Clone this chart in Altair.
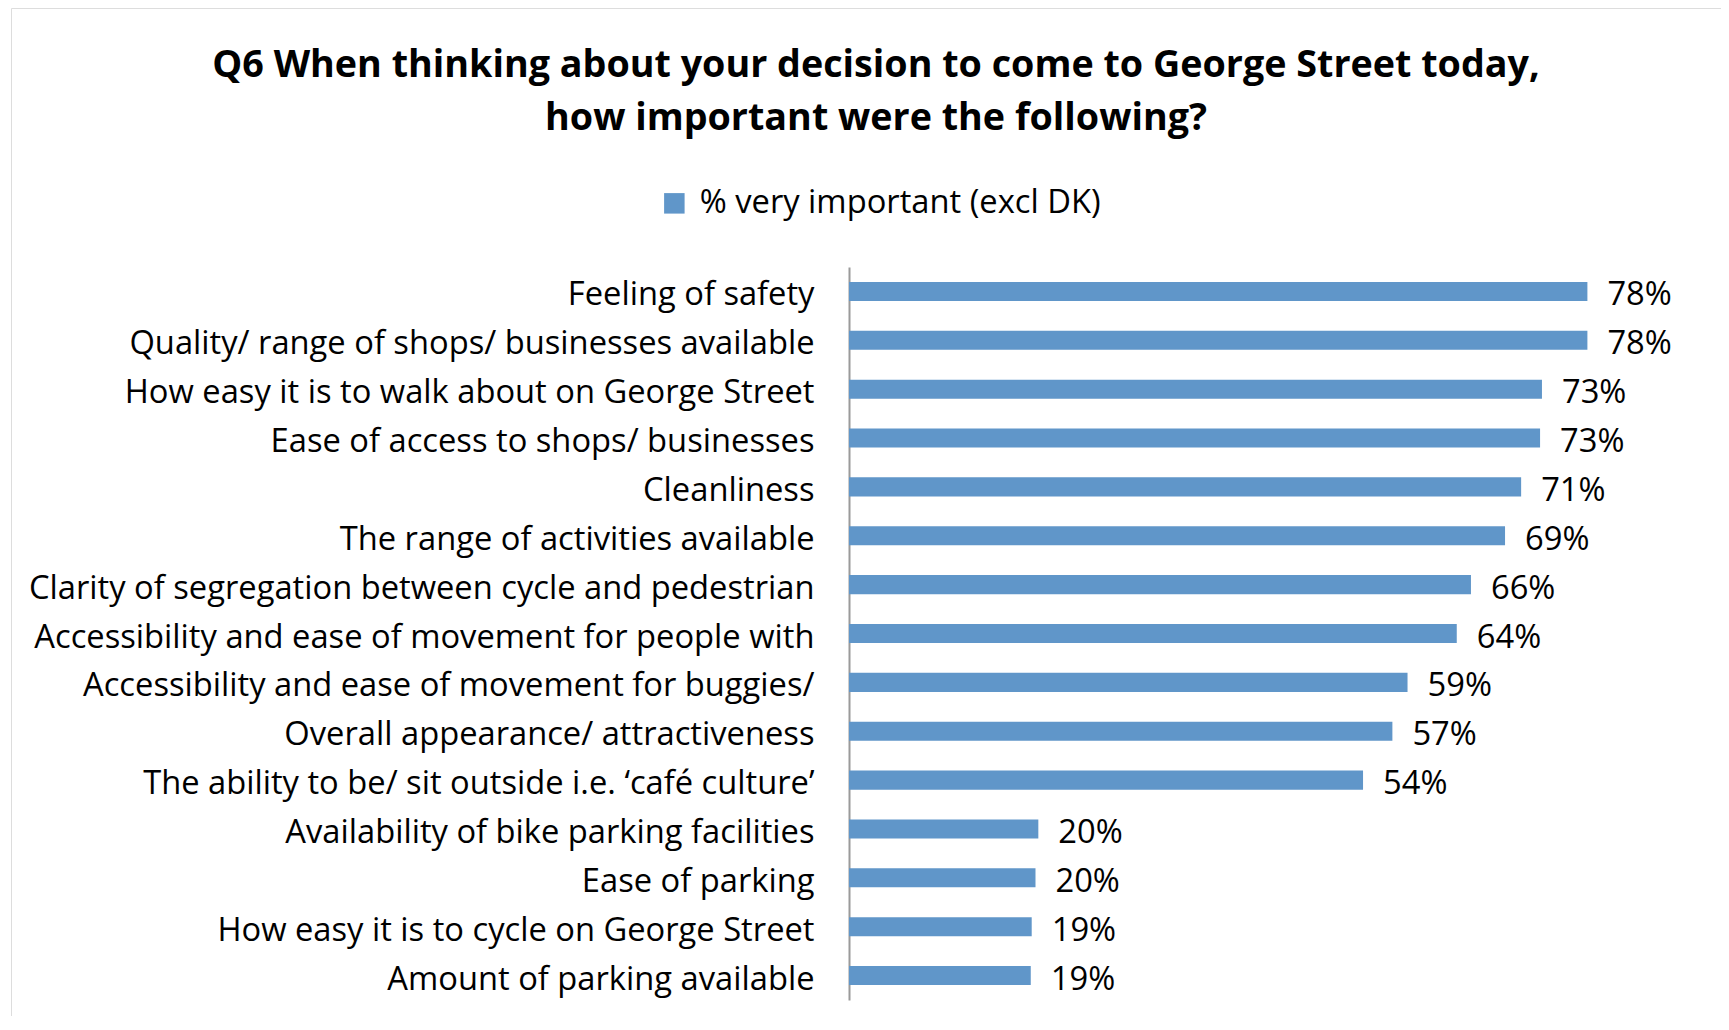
import altair as alt
import pandas as pd

categories = [
    "Feeling of safety",
    "Quality/ range of shops/ businesses available",
    "How easy it is to walk about on George Street",
    "Ease of access to shops/ businesses",
    "Cleanliness",
    "The range of activities available",
    "Clarity of segregation between cycle and pedestrian",
    "Accessibility and ease of movement for people with",
    "Accessibility and ease of movement for buggies/",
    "Overall appearance/ attractiveness ",
    "The ability to be/ sit outside i.e. \u2018caf\u00e9 culture\u2019",
    "Availability of bike parking facilities",
    "Ease of parking",
    "How easy it is to cycle on George Street",
    "Amount of parking available",
]
values = [78.0, 78.0, 73.2, 73.0, 71.0, 69.3, 65.7, 64.2, 59.0, 57.4, 54.3, 20.0, 19.7, 19.3, 19.2]
series_name = "% very important (excl DK)"
title_lines = [
    "Q6 When thinking about your decision to come to George Street today,",
    "how important were the following?",
]

FONT = "Open Sans"
BAR = "#6096C9"
FS = 32.7

df = pd.DataFrame({"item": categories, "value": values, "series": series_name})

y_enc = alt.Y(
    "item:N",
    sort=categories,
    scale=alt.Scale(range=[259, 992], paddingInner=0.61, paddingOuter=0.305),
    axis=alt.Axis(
        title=None,
        orient="left",
        offset=-838,
        domainColor="#9a9a9a",
        domainWidth=2,
        ticks=False,
        labelPadding=35,
        labelOffset=4,
        labelFont=FONT,
        labelFontSize=FS,
        labelColor="#000000",
        labelLimit=1000,
    ),
)
x_enc = alt.X("value:Q", scale=alt.Scale(domain=[0, 90], range=[838, 1690]), axis=None)

base = alt.Chart(df)

bars = base.mark_bar().encode(
    x=x_enc,
    y=y_enc,
    color=alt.Color(
        "series:N",
        scale=alt.Scale(domain=[series_name], range=[BAR]),
        legend=alt.Legend(
            title=None,
            orient="none",
            legendX=647,
            legendY=179,
            symbolType="square",
            symbolSize=420,
            symbolStrokeWidth=0,
            labelFont=FONT,
            labelFontSize=FS,
            labelColor="#000000",
            labelOffset=9,
            labelLimit=1000,
            padding=0,
        ),
    ),
)

labels = base.transform_calculate(frac="datum.value / 100").mark_text(
    align="left", baseline="middle", dx=20, dy=4, font=FONT, fontSize=FS, color="#000000"
).encode(x=x_enc, y=y_enc, text=alt.Text("frac:Q", format=".0%"))

chart = (
    alt.layer(bars, labels)
    .properties(
        width=1730,
        height=1030,
        autosize=alt.AutoSizeParams(type="none"),
        padding={"left": 3, "top": 0, "right": -20, "bottom": -22},
        title=alt.Title(
            title_lines,
            font=FONT,
            fontSize=37.7,
            fontWeight="bold",
            color="#000000",
            anchor="middle",
            frame="group",
            offset=-130,
            lineHeight=53,
        ),
    )
    .configure_view(stroke="#d2d2d2", strokeWidth=2)
    .configure(background="white")
)

chart.save("out.html", embed_options={"renderer": "svg", "actions": False})
